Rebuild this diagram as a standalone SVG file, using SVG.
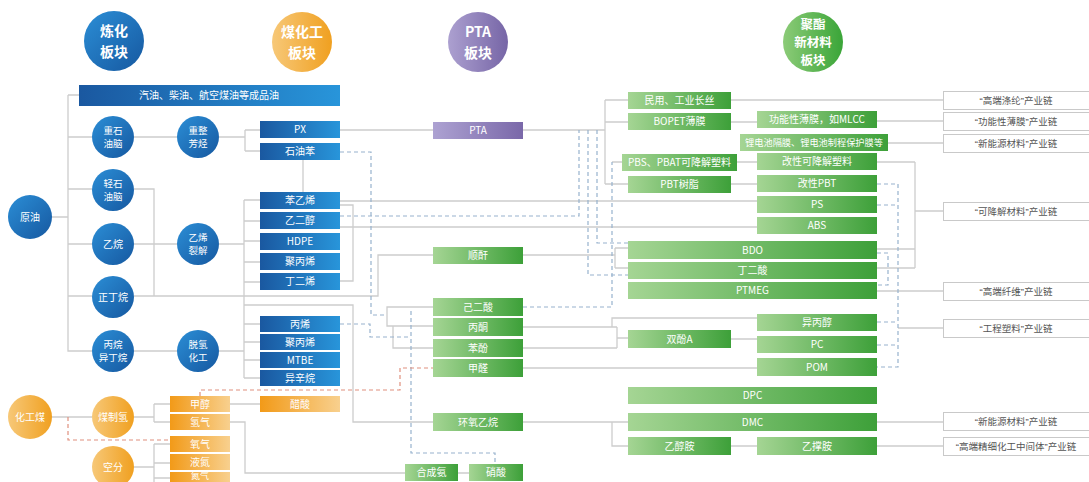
<svg xmlns="http://www.w3.org/2000/svg" width="1089" height="482" viewBox="0 0 1089 482">
<defs>
<linearGradient id="gB" x1="0" y1="0" x2="1" y2="0"><stop offset="0" stop-color="#1a58a0"/><stop offset="1" stop-color="#2895da"/></linearGradient>
<linearGradient id="gBC" x1="0" y1="0" x2="1" y2="1"><stop offset="0" stop-color="#2b8ed6"/><stop offset="1" stop-color="#1658a0"/></linearGradient>
<linearGradient id="gO" x1="0" y1="0" x2="1" y2="0"><stop offset="0" stop-color="#f29a18"/><stop offset="1" stop-color="#f8d08e"/></linearGradient>
<linearGradient id="gOC" x1="0" y1="0" x2="1" y2="0"><stop offset="0" stop-color="#f7c878"/><stop offset="1" stop-color="#f0a020"/></linearGradient>
<linearGradient id="gP" x1="0" y1="0" x2="1" y2="0"><stop offset="0" stop-color="#ada2d2"/><stop offset="1" stop-color="#7a68a9"/></linearGradient>
<linearGradient id="gPC" x1="0" y1="0" x2="1" y2="0"><stop offset="0" stop-color="#aca0d0"/><stop offset="1" stop-color="#7665a6"/></linearGradient>
<linearGradient id="gG" x1="0" y1="0" x2="1" y2="0"><stop offset="0" stop-color="#a5d594"/><stop offset="1" stop-color="#3da039"/></linearGradient>
<linearGradient id="gGC" x1="0" y1="0" x2="1" y2="0"><stop offset="0" stop-color="#8ccb78"/><stop offset="1" stop-color="#3aa538"/></linearGradient>
</defs>
<style>
text{font-family:"Noto Sans CJK SC","Noto Sans",sans-serif;text-anchor:middle}
.t{font-size:10px;fill:#ffffff}
.ts{font-size:9.2px;fill:#ffffff}
.tx{font-size:9px;fill:#ffffff}
.ct{font-size:10px;fill:#ffffff}
.c2{font-size:9.5px;fill:#ffffff}
.ht{font-size:14px;font-weight:bold;fill:#ffffff}
.h3{font-size:12.5px;font-weight:bold;fill:#ffffff}
.lt{font-family:"Liberation Sans","Noto Sans CJK SC",sans-serif;font-size:9.5px;fill:#555555}
.b{fill:url(#gB)}
.bc{fill:url(#gBC)}
.o{fill:url(#gO)}
.oc{fill:url(#gOC)}
.p{fill:url(#gP)}
.pc{fill:url(#gPC)}
.g{fill:url(#gG)}
.gc{fill:url(#gGC)}
.lb{fill:#ffffff;stroke:#c9c9c9;stroke-width:1}
.ln{fill:none;stroke:#cdcdcd;stroke-width:1.3}
.db{fill:none;stroke:#97b2cd;stroke-width:1.2;stroke-dasharray:4 3}
.dr{fill:none;stroke:#e0907e;stroke-width:1.2;stroke-dasharray:4 3}
</style>
<rect width="1089" height="482" fill="#ffffff"/>

<g id="connectors">
<path class="ln" d="M68,95 V351 H92 M68,95 H79 M52,217 H68 M68,137 H92 M68,189 H92 M68,244 H92 M68,296 H92"/>
<path class="ln" d="M134,137 H177 M219,137 H245 M245,130 V151 M245,130 H260 M245,151 H260 M303,160 V192"/>
<path class="ln" d="M134,189 H154 V296 M134,244 H177 M134,296 H378 V255 H433"/>
<path class="ln" d="M219,244 H244 M244,200 V378 M244,200 H260 M244,221 H260 M244,241 H260 M244,262 H260 M244,282 H260 M244,324 H260 M244,342 H260 M244,360 H260 M244,378 H260"/>
<path class="ln" d="M219,351 H244 M134,351 H177 M244,305 H353 V422 H433"/>
<path class="ln" d="M340,130 H433 M523,130 H605 M605,100 V184 M605,100 H628 M605,122 H628 M605,184 H628 M612,162 H622"/>
<path class="ln" d="M340,201 H757 M340,227 H757 M340,205 H353 V281 H340"/>
<path class="ln" d="M523,255 H615 M615,248 V268 M615,248 H628 M615,268 H628"/>
<path class="ln" d="M433,307 H387 V326 H433 M393,326 V348 H433"/>
<path class="ln" d="M523,327 H617 M612,327 V318 H757 M523,348 H617 M617,327 V348 M617,338 H628 M731,339 H757 M523,368 H757"/>
<path class="ln" d="M523,422 H628 M612,422 V446 H628 M731,446 H757"/>
<path class="ln" d="M731,100 H943 M731,122 H757 M877,121 H943 M888,143 H943 M737,162 H757 M731,184 H757 M877,162 H915 M915,162 V268 M877,249 H915 M877,268 H915 M915,211 H943 M877,291 H943 M898,328 H943 M877,422 H943 M877,446 H943"/>
<path class="ln" d="M52,417 H92 M134,417 H154 M154,404 V422 M154,404 H170 M154,422 H170 M230,404 H260"/>
<path class="ln" d="M134,467 H154 M154,444 V482 M154,444 H170 M154,463 H170 M154,478 H170"/>
<path class="ln" d="M230,422 H245 V473 H405 M458,473 H469"/>
<path class="db" d="M340,152 H371 V315 H387"/>
<path class="db" d="M340,216 H579 V130"/>
<path class="db" d="M588,130 V275 H628"/>
<path class="db" d="M597,130 V243 H628"/>
<path class="db" d="M523,307 H612 V162"/>
<path class="db" d="M340,324 H370 V337 H411"/>
<path class="db" d="M411,311 V453 H495 V464"/>
<path class="db" d="M877,184 H898 V367 H877 M877,205 H898 M877,322 H898 M877,345 H898"/>
<path class="db" d="M877,253 H888 V285 H877"/>
<path class="dr" d="M200,396 V390 H400 V368 H433"/>
<path class="dr" d="M68,417 V440 H170"/>
</g>

<g id="h-lianhua"><circle class="bc" cx="114" cy="41" r="30"/><text class="ht"><tspan x="114" y="36">炼化</tspan><tspan x="114" y="56.5">板块</tspan></text></g>
<g id="h-meihuagong"><circle class="oc" cx="302" cy="42" r="30"/><text class="ht"><tspan x="302" y="37">煤化工</tspan><tspan x="302" y="57.5">板块</tspan></text></g>
<g id="h-pta"><circle class="pc" cx="478" cy="42" r="30"/><text class="ht"><tspan x="478" y="37">PTA</tspan><tspan x="478" y="57.5">板块</tspan></text></g>
<g id="h-juzhi"><circle class="gc" cx="813" cy="42" r="30"/><text class="h3"><tspan x="813" y="28.5">聚酯</tspan><tspan x="813" y="46.7">新材料</tspan><tspan x="813" y="64.9">板块</tspan></text></g>

<g id="n-chengpinyou"><rect class="b" x="79" y="85" width="261" height="21"/><text class="t" x="209" y="99">汽油、柴油、航空煤油等成品油</text></g>

<g id="c-yuanyou"><circle class="bc" cx="30" cy="217" r="22"/><text class="ct" x="30" y="221">原油</text></g>
<g id="c-zhongshi"><circle class="bc" cx="113" cy="137" r="21"/><text class="c2"><tspan x="113" y="133.5">重石</tspan><tspan x="113" y="147.4">油脑</tspan></text></g>
<g id="c-qingshi"><circle class="bc" cx="113" cy="190" r="21"/><text class="c2"><tspan x="113" y="186.5">轻石</tspan><tspan x="113" y="200.4">油脑</tspan></text></g>
<g id="c-yiwan"><circle class="bc" cx="113" cy="244" r="21"/><text class="ct" x="113" y="248">乙烷</text></g>
<g id="c-zhengdingwan"><circle class="bc" cx="113" cy="297" r="21"/><text class="ct" x="113" y="301">正丁烷</text></g>
<g id="c-bingwan"><circle class="bc" cx="113" cy="351" r="21"/><text class="c2"><tspan x="113" y="347.5">丙烷</tspan><tspan x="113" y="361.4">异丁烷</tspan></text></g>
<g id="c-chongzheng"><circle class="bc" cx="198" cy="137" r="21"/><text class="c2"><tspan x="198" y="133.5">重整</tspan><tspan x="198" y="147.4">芳烃</tspan></text></g>
<g id="c-yixilie"><circle class="bc" cx="198" cy="244" r="21"/><text class="c2"><tspan x="198" y="240.5">乙烯</tspan><tspan x="198" y="254.4">裂解</tspan></text></g>
<g id="c-tuoqing"><circle class="bc" cx="198" cy="351" r="21"/><text class="c2"><tspan x="198" y="347.5">脱氢</tspan><tspan x="198" y="361.4">化工</tspan></text></g>
<g id="c-huagongmei"><circle class="oc" cx="30" cy="417" r="22"/><text class="ct" x="30" y="421">化工煤</text></g>
<g id="c-meizhiqing"><circle class="oc" cx="113" cy="417" r="21"/><text class="ct" x="113" y="421">煤制氢</text></g>
<g id="c-kongfen"><circle class="oc" cx="113" cy="467" r="21"/><text class="ct" x="113" y="471">空分</text></g>

<g id="n-px"><rect class="b" x="260" y="121" width="80" height="17"/><text class="t" x="300" y="133">PX</text></g>
<g id="n-shiyouben"><rect class="b" x="260" y="143" width="80" height="17"/><text class="t" x="300" y="155">石油苯</text></g>
<g id="n-benyixi"><rect class="b" x="260" y="192" width="80" height="17"/><text class="t" x="300" y="204">苯乙烯</text></g>
<g id="n-yierchun"><rect class="b" x="260" y="212" width="80" height="17"/><text class="t" x="300" y="224">乙二醇</text></g>
<g id="n-hdpe"><rect class="b" x="260" y="233" width="80" height="17"/><text class="t" x="300" y="245">HDPE</text></g>
<g id="n-jubingxi1"><rect class="b" x="260" y="253" width="80" height="17"/><text class="t" x="300" y="265">聚丙烯</text></g>
<g id="n-dingerxi"><rect class="b" x="260" y="273" width="80" height="17"/><text class="t" x="300" y="285">丁二烯</text></g>
<g id="n-bingxi"><rect class="b" x="260" y="316" width="80" height="16"/><text class="t" x="300" y="327.5">丙烯</text></g>
<g id="n-jubingxi2"><rect class="b" x="260" y="334" width="80" height="16"/><text class="t" x="300" y="345.5">聚丙烯</text></g>
<g id="n-mtbe"><rect class="b" x="260" y="352" width="80" height="16"/><text class="t" x="300" y="363.5">MTBE</text></g>
<g id="n-yixinwan"><rect class="b" x="260" y="370" width="80" height="16"/><text class="t" x="300" y="381.5">异辛烷</text></g>

<g id="n-cusuan"><rect class="o" x="260" y="396" width="80" height="16"/><text class="t" x="300" y="407.5">醋酸</text></g>
<g id="n-jiachun"><rect class="o" x="170" y="396" width="60" height="16"/><text class="t" x="200" y="407.5">甲醇</text></g>
<g id="n-qingqi"><rect class="o" x="170" y="414" width="60" height="16"/><text class="t" x="200" y="425.5">氢气</text></g>
<g id="n-yangqi"><rect class="o" x="170" y="436" width="60" height="16"/><text class="t" x="200" y="447.5">氧气</text></g>
<g id="n-yedan"><rect class="o" x="170" y="454" width="60" height="16"/><text class="t" x="200" y="465.5">液氮</text></g>
<g id="n-danqi"><rect class="o" x="170" y="472" width="60" height="12"/><text class="tx" x="200" y="479.3">氮气</text></g>

<g id="n-pta"><rect class="p" x="433" y="122" width="90" height="17"/><text class="t" x="478" y="134">PTA</text></g>

<g id="n-shungan"><rect class="g" x="433" y="247" width="90" height="17"/><text class="t" x="478" y="259">顺酐</text></g>
<g id="n-jiersuan"><rect class="g" x="433" y="298" width="90" height="18"/><text class="t" x="478" y="310.5">己二酸</text></g>
<g id="n-bingtong"><rect class="g" x="433" y="318" width="90" height="18"/><text class="t" x="478" y="330.5">丙酮</text></g>
<g id="n-benfen"><rect class="g" x="433" y="339" width="90" height="18"/><text class="t" x="478" y="351.5">苯酚</text></g>
<g id="n-jiaquan"><rect class="g" x="433" y="359" width="90" height="18"/><text class="t" x="478" y="371.5">甲醛</text></g>
<g id="n-huanyang"><rect class="g" x="433" y="413" width="90" height="18"/><text class="t" x="478" y="425.5">环氧乙烷</text></g>
<g id="n-hechengan"><rect class="g" x="405" y="464" width="53" height="17"/><text class="t" x="431.5" y="476">合成氨</text></g>
<g id="n-xiaosuan"><rect class="g" x="469" y="464" width="54" height="17"/><text class="t" x="496" y="476">硝酸</text></g>

<g id="n-changsi"><rect class="g" x="628" y="92" width="103" height="17"/><text class="t" x="679.5" y="104">民用、工业长丝</text></g>
<g id="n-bopet"><rect class="g" x="628" y="113" width="103" height="17"/><text class="t" x="679.5" y="125">BOPET薄膜</text></g>
<g id="n-gongneng"><rect class="g" x="757" y="111" width="120" height="17"/><text class="t" x="817" y="123">功能性薄膜，如MLCC</text></g>
<g id="n-lidian"><rect class="g" x="740" y="134" width="148" height="17"/><text class="ts" x="814" y="145.8">锂电池隔膜、锂电池制程保护膜等</text></g>
<g id="n-pbs"><rect class="g" x="622" y="154" width="115" height="17"/><text class="t" x="679.5" y="166">PBS、PBAT可降解塑料</text></g>
<g id="n-gaixingkj"><rect class="g" x="757" y="153" width="120" height="17"/><text class="t" x="817" y="165">改性可降解塑料</text></g>
<g id="n-pbt"><rect class="g" x="628" y="176" width="103" height="17"/><text class="t" x="679.5" y="188">PBT树脂</text></g>
<g id="n-gaixingpbt"><rect class="g" x="757" y="175" width="120" height="17"/><text class="t" x="817" y="187">改性PBT</text></g>
<g id="n-ps"><rect class="g" x="757" y="196" width="120" height="17"/><text class="t" x="817" y="208">PS</text></g>
<g id="n-abs"><rect class="g" x="757" y="217" width="120" height="17"/><text class="t" x="817" y="229">ABS</text></g>
<g id="n-bdo"><rect class="g" x="628" y="241" width="249" height="18"/><text class="t" x="752.5" y="253.5">BDO</text></g>
<g id="n-dingersuan"><rect class="g" x="628" y="262" width="249" height="17"/><text class="t" x="752.5" y="274">丁二酸</text></g>
<g id="n-ptmeg"><rect class="g" x="628" y="282" width="249" height="17"/><text class="t" x="752.5" y="294">PTMEG</text></g>
<g id="n-yibingchun"><rect class="g" x="757" y="314" width="120" height="17"/><text class="t" x="817" y="326">异丙醇</text></g>
<g id="n-shuangfen"><rect class="g" x="628" y="330" width="103" height="18"/><text class="t" x="679.5" y="342.5">双酚A</text></g>
<g id="n-pc"><rect class="g" x="757" y="336" width="120" height="17"/><text class="t" x="817" y="348">PC</text></g>
<g id="n-pom"><rect class="g" x="757" y="358" width="120" height="18"/><text class="t" x="817" y="370.5">POM</text></g>
<g id="n-dpc"><rect class="g" x="628" y="387" width="249" height="17"/><text class="t" x="752.5" y="399">DPC</text></g>
<g id="n-dmc"><rect class="g" x="628" y="413" width="249" height="18"/><text class="t" x="752.5" y="425.5">DMC</text></g>
<g id="n-yichunan"><rect class="g" x="628" y="437" width="103" height="18"/><text class="t" x="679.5" y="449.5">乙醇胺</text></g>
<g id="n-yichengan"><rect class="g" x="757" y="437" width="120" height="18"/><text class="t" x="817" y="449.5">乙撑胺</text></g>

<g id="l-dilun"><rect class="lb" x="943.5" y="91.5" width="150" height="18"/><text class="lt" x="1016" y="104">“高端涤纶”产业链</text></g>
<g id="l-bomo"><rect class="lb" x="943.5" y="112.5" width="150" height="18"/><text class="lt" x="1016" y="125">“功能性薄膜”产业链</text></g>
<g id="l-xinneng1"><rect class="lb" x="943.5" y="134.5" width="150" height="18"/><text class="lt" x="1016" y="147">“新能源材料”产业链</text></g>
<g id="l-kejiangjie"><rect class="lb" x="943.5" y="202.5" width="150" height="18"/><text class="lt" x="1016" y="215">“可降解材料”产业链</text></g>
<g id="l-xianwei"><rect class="lb" x="943.5" y="282.5" width="150" height="18"/><text class="lt" x="1016" y="295">“高端纤维”产业链</text></g>
<g id="l-gongcheng"><rect class="lb" x="943.5" y="319.5" width="150" height="18"/><text class="lt" x="1016" y="332">“工程塑料”产业链</text></g>
<g id="l-xinneng2"><rect class="lb" x="943.5" y="412.5" width="150" height="18"/><text class="lt" x="1016" y="425">“新能源材料”产业链</text></g>
<g id="l-jingxi"><rect class="lb" x="943.5" y="437.5" width="150" height="18"/><text class="lt" x="1016" y="450">“高端精细化工中间体”产业链</text></g>
</svg>
